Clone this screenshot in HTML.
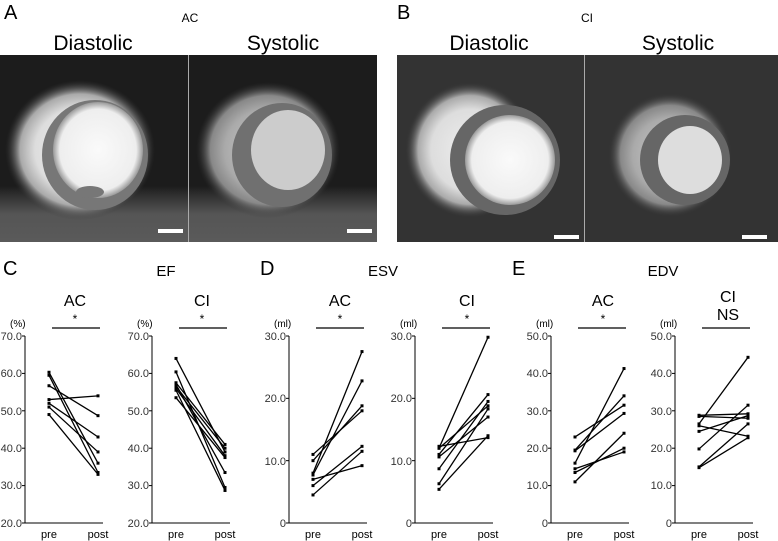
<!DOCTYPE html>
<html><head><meta charset="utf-8"><style>
html,body{margin:0;padding:0;background:#fff;}
svg{display:block;font-family:"Liberation Sans",Arial,sans-serif;}
</style></head><body>
<svg id="s" width="778" height="541" viewBox="0 0 778 541" xmlns="http://www.w3.org/2000/svg">
<defs>
<radialGradient id="ring" cx="0.5" cy="0.5" r="0.5"><stop offset="0" stop-color="#eee"/><stop offset="0.6" stop-color="#ddd"/><stop offset="0.8" stop-color="#aaa"/><stop offset="1" stop-color="#333" stop-opacity="0"/></radialGradient>
<radialGradient id="ringS" cx="0.5" cy="0.5" r="0.5"><stop offset="0" stop-color="#ccc"/><stop offset="0.6" stop-color="#aaa"/><stop offset="0.8" stop-color="#888"/><stop offset="1" stop-color="#333" stop-opacity="0"/></radialGradient>
<radialGradient id="cav" cx="0.5" cy="0.5" r="0.5"><stop offset="0" stop-color="#fafafa"/><stop offset="0.85" stop-color="#eee"/><stop offset="1" stop-color="#999"/></radialGradient>
<linearGradient id="bot" x1="0" y1="0" x2="0" y2="1"><stop offset="0" stop-color="#1c1c1c"/><stop offset="0.7" stop-color="#1c1c1c"/><stop offset="0.85" stop-color="#555"/><stop offset="1" stop-color="#5a5a5a"/></linearGradient>
</defs>
<!-- images A -->
<rect x="0" y="55" width="188" height="187" fill="url(#bot)"/>
<ellipse cx="80" cy="150" rx="75" ry="70" fill="url(#ring)"/>
<ellipse cx="95" cy="155" rx="53" ry="55" fill="#777"/>
<ellipse cx="98" cy="150" rx="45" ry="48" fill="url(#cav)"/>
<ellipse cx="90" cy="192" rx="14" ry="6" fill="#777"/>
<rect x="158" y="229" width="25" height="4" fill="#fff"/>
<rect x="189" y="55" width="188" height="187" fill="url(#bot)"/>
<ellipse cx="268" cy="150" rx="72" ry="68" fill="url(#ringS)"/>
<ellipse cx="282" cy="155" rx="50" ry="52" fill="#707070"/>
<ellipse cx="288" cy="150" rx="37" ry="40" fill="#ccc"/>
<rect x="347" y="229" width="25" height="4" fill="#fff"/>
<!-- images B -->
<rect x="397" y="55" width="187" height="187" fill="#333"/>
<ellipse cx="470" cy="150" rx="65" ry="68" fill="url(#ring)"/>
<ellipse cx="505" cy="160" rx="55" ry="55" fill="#666"/>
<ellipse cx="510" cy="160" rx="45" ry="45" fill="url(#cav)"/>
<rect x="554" y="235" width="25" height="4" fill="#fff"/>
<rect x="585" y="55" width="193" height="187" fill="#333"/>
<ellipse cx="670" cy="155" rx="62" ry="62" fill="url(#ringS)"/>
<ellipse cx="685" cy="160" rx="45" ry="45" fill="#666"/>
<ellipse cx="690" cy="160" rx="32" ry="34" fill="#ddd"/>
<rect x="742" y="235" width="25" height="4" fill="#fff"/>
<line x1="188.5" y1="55" x2="188.5" y2="242" stroke="#aaa"/>
<line x1="584.5" y1="55" x2="584.5" y2="242" stroke="#aaa"/>
<!-- top labels -->
<text x="4" y="19" font-size="20">A</text>
<text x="190" y="22" font-size="12" text-anchor="middle">AC</text>
<text x="93" y="50" font-size="21" text-anchor="middle">Diastolic</text>
<text x="283" y="50" font-size="21" text-anchor="middle">Systolic</text>
<text x="397" y="19" font-size="20">B</text>
<text x="587" y="22" font-size="12" text-anchor="middle">CI</text>
<text x="489" y="50" font-size="21" text-anchor="middle">Diastolic</text>
<text x="678" y="50" font-size="21" text-anchor="middle">Systolic</text>
<!-- panel letters -->
<text x="3" y="275" font-size="20">C</text>
<text x="166" y="276" font-size="15" text-anchor="middle">EF</text>
<text x="260" y="275" font-size="20">D</text>
<text x="383" y="276" font-size="15" text-anchor="middle">ESV</text>
<text x="512" y="275" font-size="20">E</text>
<text x="663" y="276" font-size="15" text-anchor="middle">EDV</text>
<!-- subtitles -->
<text x="75" y="306" font-size="16" text-anchor="middle">AC</text>
<text x="202" y="306" font-size="16" text-anchor="middle">CI</text>
<text x="340" y="306" font-size="16" text-anchor="middle">AC</text>
<text x="467" y="306" font-size="16" text-anchor="middle">CI</text>
<text x="603" y="306" font-size="16" text-anchor="middle">AC</text>
<text x="728" y="302" font-size="16" text-anchor="middle">CI</text>
<text x="728" y="320" font-size="16" text-anchor="middle">NS</text>
<text x="75" y="323" font-size="12" text-anchor="middle">*</text>
<text x="202" y="323" font-size="12" text-anchor="middle">*</text>
<text x="340" y="323" font-size="12" text-anchor="middle">*</text>
<text x="467" y="323" font-size="12" text-anchor="middle">*</text>
<text x="603" y="323" font-size="12" text-anchor="middle">*</text>
<!-- units -->
<text x="10" y="327" font-size="10">(%)</text>
<text x="137" y="327" font-size="10">(%)</text>
<text x="274" y="327" font-size="10">(ml)</text>
<text x="400" y="327" font-size="10">(ml)</text>
<text x="536" y="327" font-size="10">(ml)</text>
<text x="660" y="327" font-size="10">(ml)</text>
<!-- tick labels -->
<g font-size="11" text-anchor="end" fill="#333">
<text x="22" y="340">70.0</text><text x="22" y="377">60.0</text><text x="22" y="415">50.0</text><text x="22" y="452">40.0</text><text x="22" y="489">30.0</text><text x="22" y="527">20.0</text>
<text x="149" y="340">70.0</text><text x="149" y="377">60.0</text><text x="149" y="415">50.0</text><text x="149" y="452">40.0</text><text x="149" y="489">30.0</text><text x="149" y="527">20.0</text>
<text x="286" y="340">30.0</text><text x="286" y="402">20.0</text><text x="286" y="465">10.0</text><text x="286" y="527">0</text>
<text x="412" y="340">30.0</text><text x="412" y="402">20.0</text><text x="412" y="465">10.0</text><text x="412" y="527">0</text>
<text x="548" y="340">50.0</text><text x="548" y="377">40.0</text><text x="548" y="415">30.0</text><text x="548" y="452">20.0</text><text x="548" y="489">10.0</text><text x="548" y="527">0</text>
<text x="672" y="340">50.0</text><text x="672" y="377">40.0</text><text x="672" y="415">30.0</text><text x="672" y="452">20.0</text><text x="672" y="489">10.0</text><text x="672" y="527">0</text>
</g>
<g font-size="11" text-anchor="middle">
<text x="49" y="538">pre</text><text x="98" y="538">post</text>
<text x="176" y="538">pre</text><text x="225" y="538">post</text>
<text x="313" y="538">pre</text><text x="362" y="538">post</text>
<text x="439" y="538">pre</text><text x="488" y="538">post</text>
<text x="575" y="538">pre</text><text x="624" y="538">post</text>
<text x="699" y="538">pre</text><text x="748" y="538">post</text>
</g>
<g id="plots"></g>
</svg>
<script>
var P=[
 {x:25,min:20,max:70,d:[[60.3,36],[59.5,33.5],[56.7,48.7],[53,54],[52,43],[51,39],[49,33]]},
 {x:152,min:20,max:70,d:[[64,39],[60.4,29.5],[57.5,41],[57,33.5],[56,38],[55.5,28.7],[53.5,37.5],[56.5,40]]},
 {x:289,min:0,max:30,d:[[8,27.5],[7.7,22.8],[11,18],[10,18.8],[4.5,11.5],[6,12.3],[7,9.2]]},
 {x:415,min:0,max:30,d:[[12,29.8],[11,20.6],[12.3,13.7],[8.7,19.5],[10.6,17],[6.3,18.3],[5.4,14],[12,18.8]]},
 {x:551,min:0,max:50,d:[[16,41.3],[19.5,34],[23,31.5],[19.3,29.3],[11,24],[13.5,20],[14.5,19]]},
 {x:675,min:0,max:50,d:[[26.5,44.3],[28.8,29.2],[28.5,28],[26,23.2],[24.5,28.7],[19.8,31.5],[15,26.5],[14.8,22.8]]}
];
var g=document.getElementById('plots'),h='';
P.forEach(function(p){
 var X=p.x,Y=function(v){return 523-(v-p.min)/(p.max-p.min)*187;};
 h+='<line x1="'+X+'" y1="336" x2="'+X+'" y2="523" stroke="#000" stroke-width="1"/>';
 h+='<line x1="'+X+'" y1="523" x2="'+(X+78)+'" y2="523" stroke="#000" stroke-width="1"/>';
 var n=Math.round((p.max-p.min)/10);
 for(var i=0;i<=n;i++){var y=523-i*187/n;h+='<line x1="'+(X-3)+'" y1="'+y+'" x2="'+X+'" y2="'+y+'" stroke="#000"/>';}
 h+='<line x1="'+(X+27)+'" y1="328" x2="'+(X+75)+'" y2="328" stroke="#000" stroke-width="1.3"/>';
 p.d.forEach(function(d){var a=Y(d[0]),b=Y(d[1]);
  h+='<line x1="'+(X+24)+'" y1="'+a+'" x2="'+(X+73)+'" y2="'+b+'" stroke="#000" stroke-width="1.3"/>';
  h+='<rect x="'+(X+22.5)+'" y="'+(a-1.5)+'" width="3" height="3"/><rect x="'+(X+71.5)+'" y="'+(b-1.5)+'" width="3" height="3"/>';});
});
g.innerHTML=h;
</script>
</body></html>
